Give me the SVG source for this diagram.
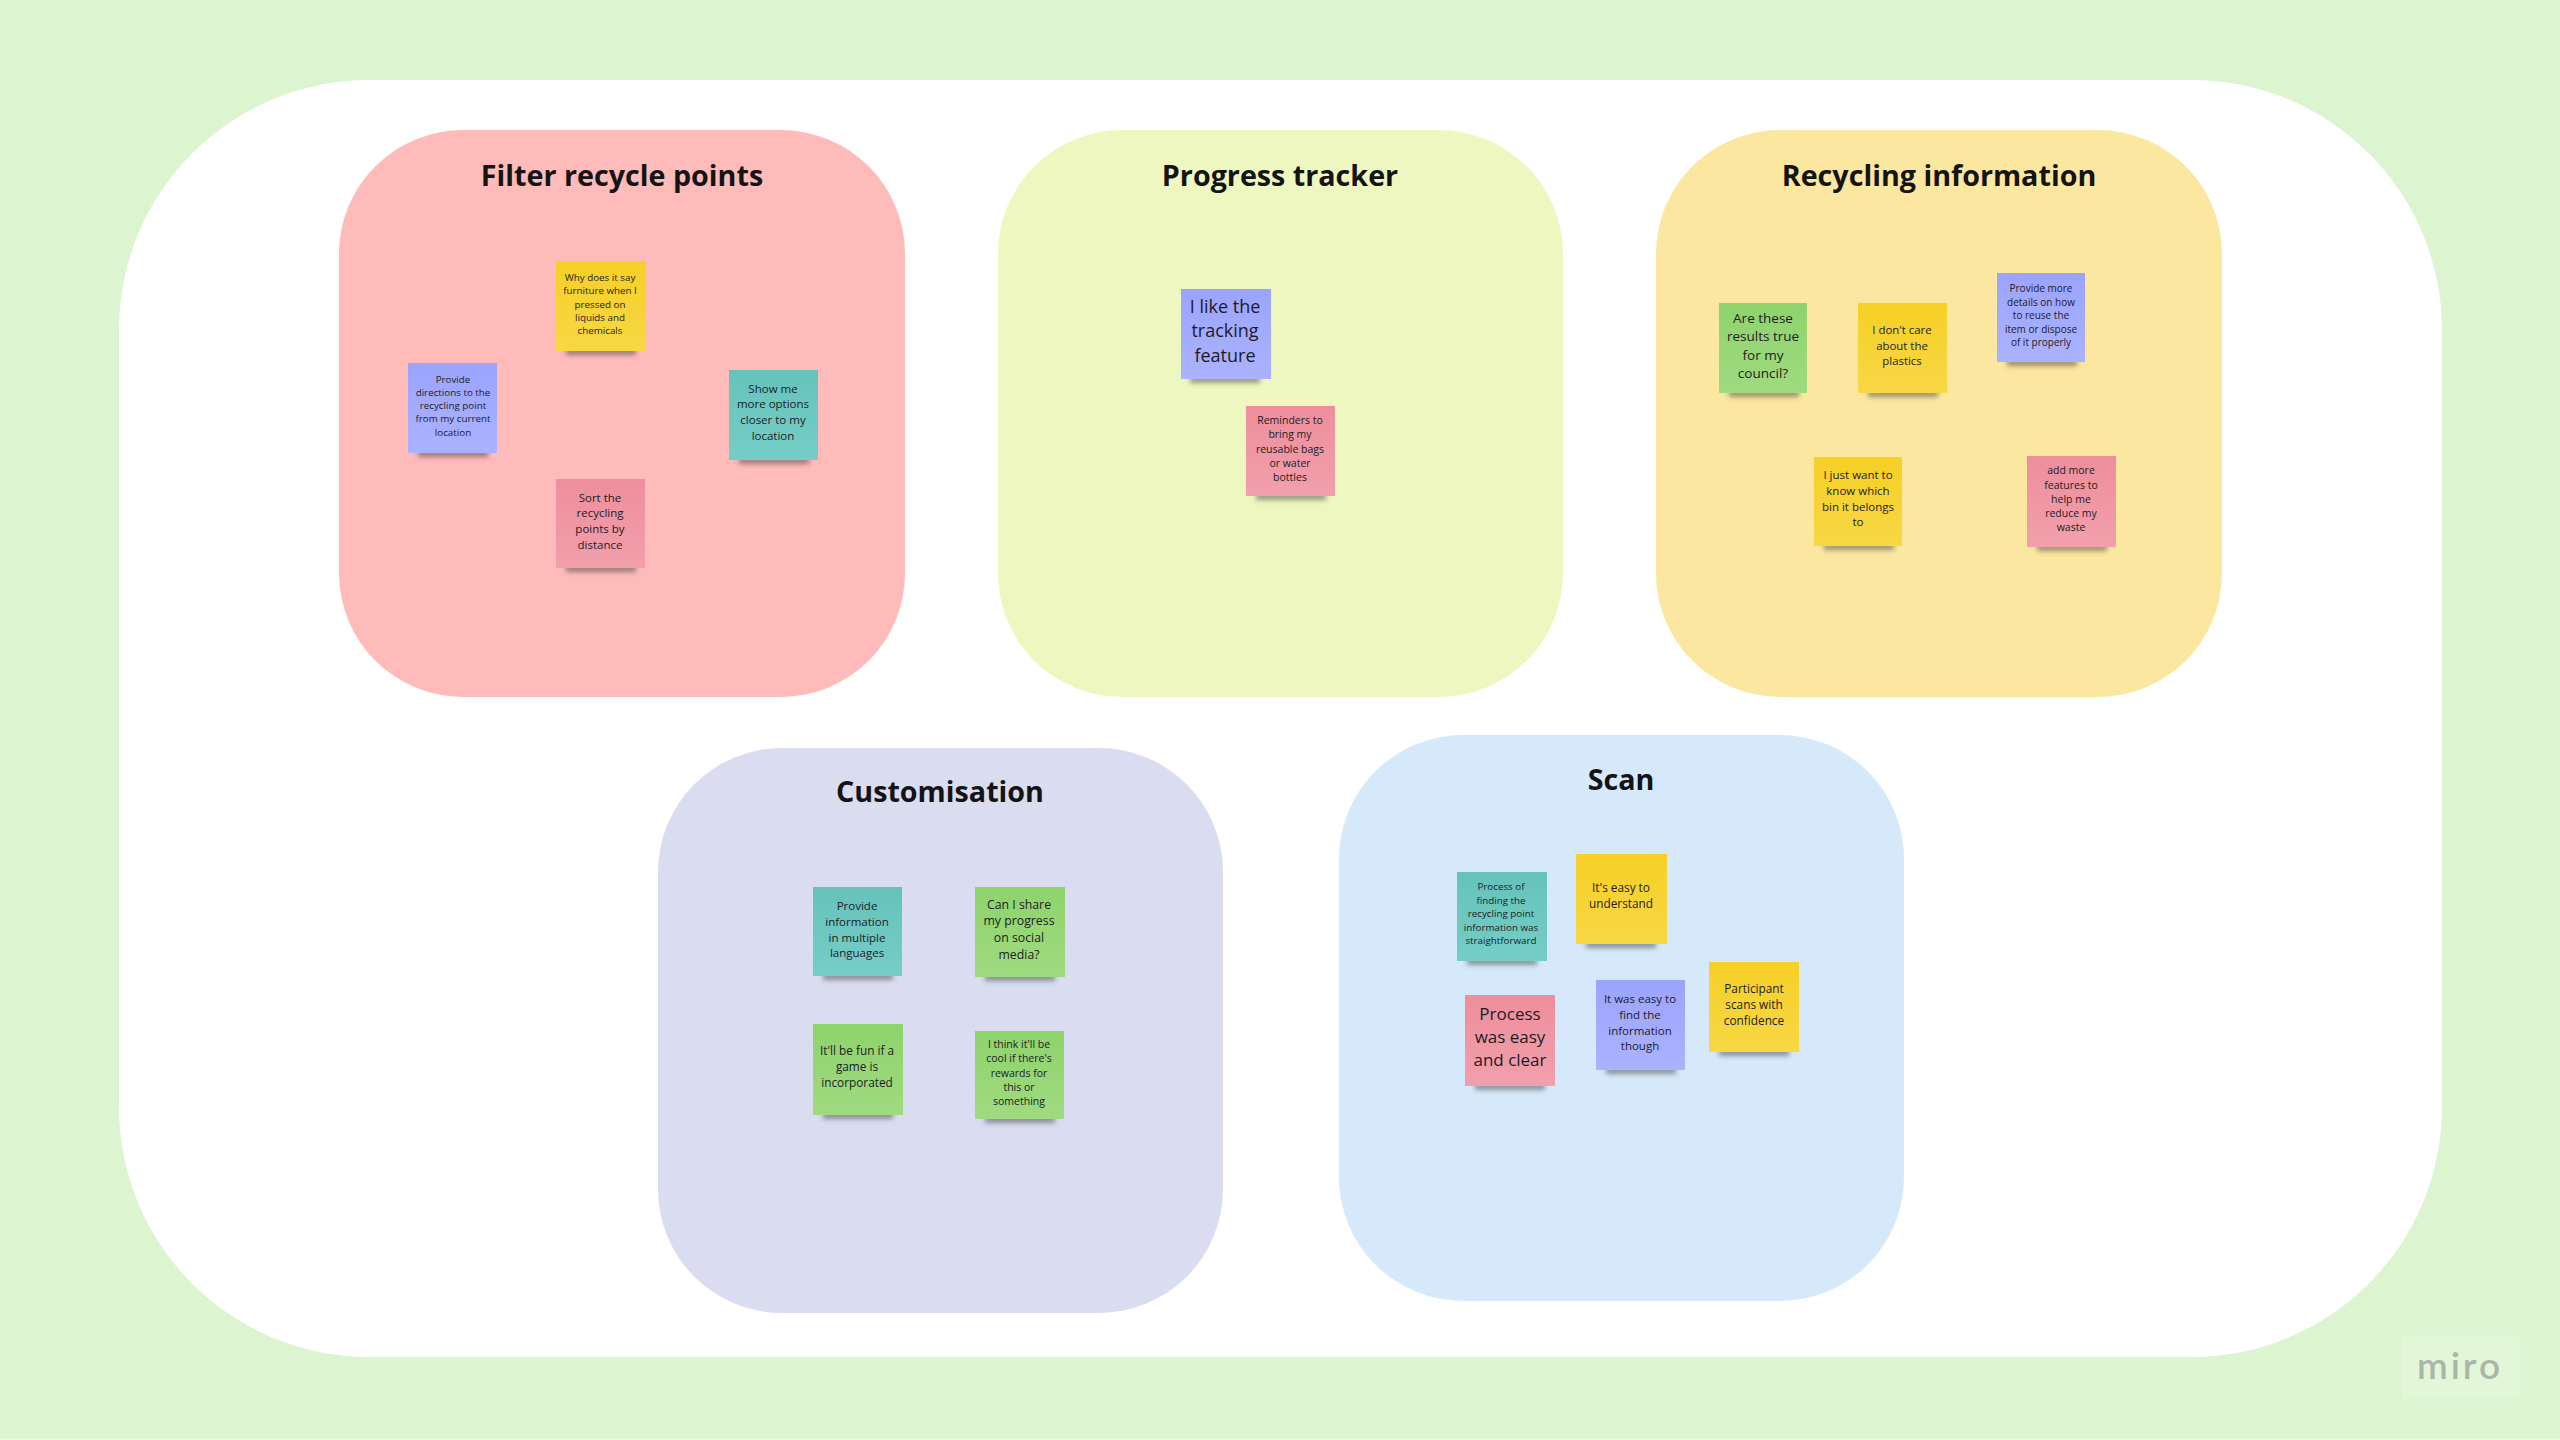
<svg xmlns="http://www.w3.org/2000/svg" width="2560" height="1440" viewBox="0 0 2560 1440">
<style>
text{font-family:"Open Sans","Noto Sans",sans-serif;fill:#1c1c24;text-anchor:middle}
text:not(.t){transform:translateY(-.3px)}
.t{font-size:28.7px;font-weight:700;fill:#141414}
.shadow{fill:#3a3a3a;opacity:.5;filter:url(#blur)}
.blue{fill:url(#gb)}.yellow{fill:url(#gy)}.teal{fill:url(#gt)}.pink{fill:url(#gp)}.green{fill:url(#gg)}
</style>
<defs>
<filter id="blur" x="-20%" y="-150%" width="140%" height="400%"><feGaussianBlur stdDeviation="2.4"/></filter>
<linearGradient id="gb" x1="0" y1="0" x2="0" y2="1"><stop offset="0" stop-color="#9ba4fd"/><stop offset="1" stop-color="#abb2ff"/></linearGradient>
<linearGradient id="gy" x1="0" y1="0" x2="0" y2="1"><stop offset="0" stop-color="#f6d026"/><stop offset="1" stop-color="#f7d745"/></linearGradient>
<linearGradient id="gt" x1="0" y1="0" x2="0" y2="1"><stop offset="0" stop-color="#65c3bc"/><stop offset="1" stop-color="#75cdc6"/></linearGradient>
<linearGradient id="gp" x1="0" y1="0" x2="0" y2="1"><stop offset="0" stop-color="#ee8e9c"/><stop offset="1" stop-color="#f29fac"/></linearGradient>
<linearGradient id="gg" x1="0" y1="0" x2="0" y2="1"><stop offset="0" stop-color="#8ed36c"/><stop offset="1" stop-color="#a0da80"/></linearGradient>
</defs>
<rect width="2560" height="1440" fill="#dcf4d0"/>
<rect y="1438.5" width="2560" height="1.5" fill="#eef9e8"/>
<rect x="119" y="80" width="2323" height="1277" rx="250" ry="250" fill="#fff"/>

<g id="panel-filter"><rect x="339" y="130" width="566" height="567" rx="124" fill="#ffbaba"/><text class="t" x="622" y="186">Filter recycle points</text></g>
<g id="panel-progress"><rect x="998" y="130" width="565" height="567" rx="124" fill="#eff7c0"/><text class="t" x="1280" y="186">Progress tracker</text></g>
<g id="panel-recycling"><rect x="1656" y="130" width="566" height="567" rx="124" fill="#fbe79f"/><text class="t" x="1939" y="186">Recycling information</text></g>
<g id="panel-customisation"><rect x="658" y="748" width="565" height="565" rx="124" fill="#dadcf0"/><text class="t" x="940" y="802">Customisation</text></g>
<g id="panel-scan"><rect x="1339" y="735" width="565" height="566" rx="124" fill="#d5e9fa"/><text class="t" x="1621" y="790">Scan</text></g>

<g id="note-f1"><rect class="shadow" x="566" y="348" width="70" height="7"/><rect class="yellow" x="556" y="261" width="90" height="90"/><text font-size="9.8"><tspan x="600" y="281">Why does it say</tspan><tspan x="600" y="294.5">furniture when I</tspan><tspan x="600" y="308">pressed on</tspan><tspan x="600" y="321">liquids and</tspan><tspan x="600" y="334">chemicals</tspan></text></g>
<g id="note-f2"><rect class="shadow" x="418" y="450" width="70" height="7"/><rect class="blue" x="408" y="363" width="89" height="90"/><text font-size="9.8"><tspan x="453" y="383">Provide</tspan><tspan x="453" y="396.5">directions to the</tspan><tspan x="453" y="409.5">recycling point</tspan><tspan x="453" y="422.5">from my current</tspan><tspan x="453" y="436">location</tspan></text></g>
<g id="note-f3"><rect class="shadow" x="739" y="457" width="70" height="7"/><rect class="teal" x="729" y="370" width="89" height="90"/><text font-size="11.5"><tspan x="773" y="393">Show me</tspan><tspan x="773" y="408.7">more options</tspan><tspan x="773" y="424.4">closer to my</tspan><tspan x="773" y="440">location</tspan></text></g>
<g id="note-f4"><rect class="shadow" x="566" y="565" width="70" height="7"/><rect class="pink" x="556" y="479" width="89" height="89"/><text font-size="11.5"><tspan x="600" y="502">Sort the</tspan><tspan x="600" y="517.5">recycling</tspan><tspan x="600" y="533">points by</tspan><tspan x="600" y="549">distance</tspan></text></g>

<g id="note-p1"><rect class="shadow" x="1190" y="376" width="70" height="7"/><rect class="blue" x="1181" y="289" width="90" height="90"/><text font-size="18"><tspan x="1225" y="313">I like the</tspan><tspan x="1225" y="337.5">tracking</tspan><tspan x="1225" y="362">feature</tspan></text></g>
<g id="note-p2"><rect class="shadow" x="1256" y="493" width="70" height="7"/><rect class="pink" x="1246" y="406" width="89" height="90"/><text font-size="10.5"><tspan x="1290" y="424">Reminders to</tspan><tspan x="1290" y="438.5">bring my</tspan><tspan x="1290" y="453">reusable bags</tspan><tspan x="1290" y="467">or water</tspan><tspan x="1290" y="481.5">bottles</tspan></text></g>

<g id="note-r1"><rect class="shadow" x="1729" y="390" width="70" height="7"/><rect class="green" x="1719" y="303" width="88" height="90"/><text font-size="13.5"><tspan x="1763" y="323">Are these</tspan><tspan x="1763" y="341">results true</tspan><tspan x="1763" y="360">for my</tspan><tspan x="1763" y="378">council?</tspan></text></g>
<g id="note-r2"><rect class="shadow" x="1868" y="390" width="70" height="7"/><rect class="yellow" x="1858" y="303" width="89" height="90"/><text font-size="11.4"><tspan x="1902" y="334.5">I don't care</tspan><tspan x="1902" y="350">about the</tspan><tspan x="1902" y="365.5">plastics</tspan></text></g>
<g id="note-r3"><rect class="shadow" x="2007" y="359" width="70" height="7"/><rect class="blue" x="1997" y="273" width="88" height="89"/><text font-size="10"><tspan x="2041" y="292.5">Provide more</tspan><tspan x="2041" y="306">details on how</tspan><tspan x="2041" y="319.5">to reuse the</tspan><tspan x="2041" y="333">item or dispose</tspan><tspan x="2041" y="346.5">of it properly</tspan></text></g>
<g id="note-r4"><rect class="shadow" x="1824" y="543" width="70" height="7"/><rect class="yellow" x="1814" y="457" width="88" height="89"/><text font-size="11.5"><tspan x="1858" y="479.5">I just want to</tspan><tspan x="1858" y="495">know which</tspan><tspan x="1858" y="511">bin it belongs</tspan><tspan x="1858" y="526.5">to</tspan></text></g>
<g id="note-r5"><rect class="shadow" x="2037" y="544" width="70" height="7"/><rect class="pink" x="2027" y="456" width="89" height="91"/><text font-size="10.5"><tspan x="2071" y="474.5">add more</tspan><tspan x="2071" y="489">features to</tspan><tspan x="2071" y="503">help me</tspan><tspan x="2071" y="517.5">reduce my</tspan><tspan x="2071" y="531.5">waste</tspan></text></g>

<g id="note-c1"><rect class="shadow" x="823" y="973" width="70" height="7"/><rect class="teal" x="813" y="887" width="89" height="89"/><text font-size="11.5"><tspan x="857" y="910.5">Provide</tspan><tspan x="857" y="926">information</tspan><tspan x="857" y="942">in multiple</tspan><tspan x="857" y="957">languages</tspan></text></g>
<g id="note-c2"><rect class="shadow" x="985" y="974" width="70" height="7"/><rect class="green" x="975" y="887" width="90" height="90"/><text font-size="12.3"><tspan x="1019" y="909">Can I share</tspan><tspan x="1019" y="925.5">my progress</tspan><tspan x="1019" y="942.5">on social</tspan><tspan x="1019" y="959">media?</tspan></text></g>
<g id="note-c3"><rect class="shadow" x="823" y="1112" width="70" height="7"/><rect class="green" x="813" y="1024" width="90" height="91"/><text font-size="11.8"><tspan x="857" y="1055.5">It'll be fun if a</tspan><tspan x="857" y="1071.5">game is</tspan><tspan x="857" y="1087.5">incorporated</tspan></text></g>
<g id="note-c4"><rect class="shadow" x="985" y="1116" width="70" height="7"/><rect class="green" x="975" y="1031" width="89" height="88"/><text font-size="10.5"><tspan x="1019" y="1048">I think it'll be</tspan><tspan x="1019" y="1062.5">cool if there's</tspan><tspan x="1019" y="1077">rewards for</tspan><tspan x="1019" y="1091">this or</tspan><tspan x="1019" y="1105.5">something</tspan></text></g>

<g id="note-s1"><rect class="shadow" x="1467" y="958" width="70" height="7"/><rect class="teal" x="1457" y="872" width="90" height="89"/><text font-size="9.8"><tspan x="1501" y="890.5">Process of</tspan><tspan x="1501" y="904">finding the</tspan><tspan x="1501" y="917.5">recycling point</tspan><tspan x="1501" y="931">information was</tspan><tspan x="1501" y="944.5">straightforward</tspan></text></g>
<g id="note-s2"><rect class="shadow" x="1586" y="941" width="70" height="7"/><rect class="yellow" x="1576" y="854" width="91" height="90"/><text font-size="11.8"><tspan x="1621" y="892.5">It's easy to</tspan><tspan x="1621" y="908.5">understand</tspan></text></g>
<g id="note-s3"><rect class="shadow" x="1475" y="1083" width="70" height="7"/><rect class="pink" x="1465" y="995" width="90" height="91"/><text font-size="17"><tspan x="1510" y="1020">Process</tspan><tspan x="1510" y="1043">was easy</tspan><tspan x="1510" y="1066">and clear</tspan></text></g>
<g id="note-s4"><rect class="shadow" x="1606" y="1067" width="70" height="7"/><rect class="blue" x="1596" y="980" width="89" height="90"/><text font-size="11.5"><tspan x="1640" y="1003.5">It was easy to</tspan><tspan x="1640" y="1019">find the</tspan><tspan x="1640" y="1035">information</tspan><tspan x="1640" y="1050.5">though</tspan></text></g>
<g id="note-s5"><rect class="shadow" x="1719" y="1049" width="70" height="7"/><rect class="yellow" x="1709" y="962" width="90" height="90"/><text font-size="11.8"><tspan x="1754" y="993.5">Participant</tspan><tspan x="1754" y="1009.5">scans with</tspan><tspan x="1754" y="1025.5">confidence</tspan></text></g>

<g id="connectors"/>
<g id="miro-badge"><rect x="2401" y="1336" width="119" height="63" fill="#e3f6d8"/><text x="2460" y="1379" font-size="37" font-weight="600" letter-spacing="3" style="font-family:Lato,'Open Sans',sans-serif;fill:#a9b6a8">miro</text></g>
</svg>
